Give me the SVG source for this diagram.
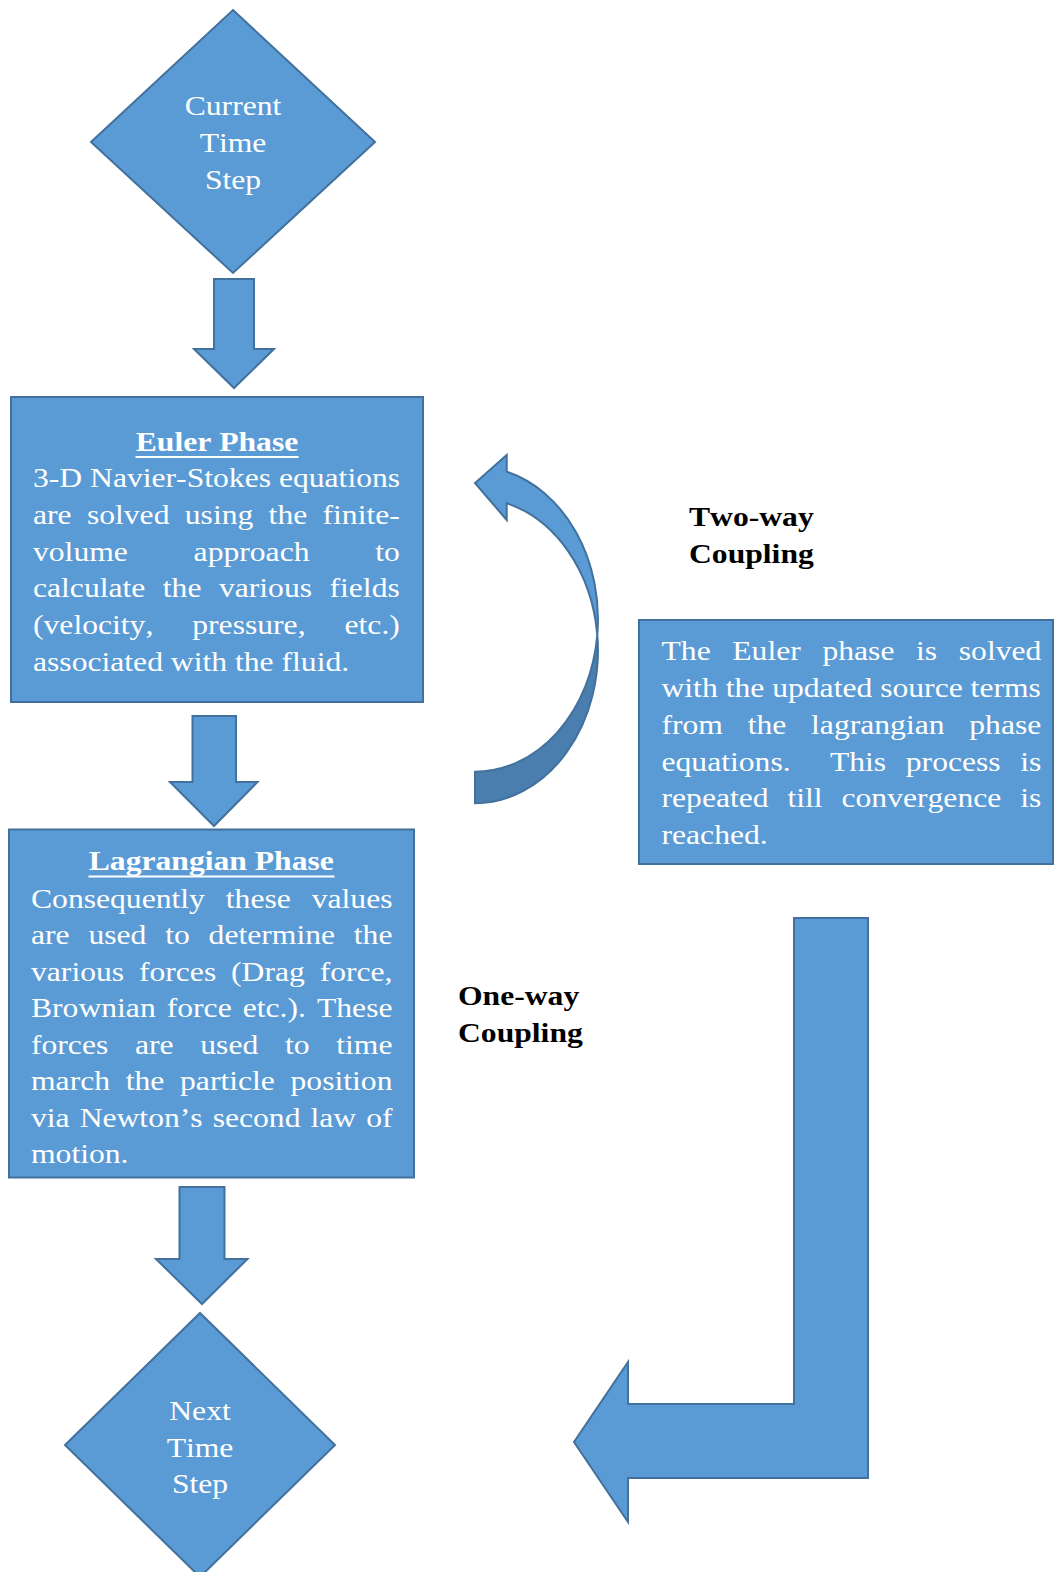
<svg xmlns="http://www.w3.org/2000/svg" width="1054" height="1572" viewBox="0 0 1054 1572">
<style>
.shape{fill:#5B9BD5;stroke:#41719C;stroke-width:2;stroke-linejoin:miter}
.dark{fill:#4A7EAE;stroke:#41719C;stroke-width:2}
.t{font-family:"Liberation Serif","Times New Roman",serif;font-size:28px;fill:#FFFFFF;font-kerning:none}
.b{font-weight:bold}
.k{font-family:"Liberation Serif","Times New Roman",serif;font-size:28px;font-weight:bold;fill:#000000;font-kerning:none}
.ul{stroke:#FFFFFF;stroke-width:2}
</style>
<rect width="1054" height="1572" fill="#FFFFFF"/>

<g id="connectors">
  <path class="shape" d="M214,279 L254,279 L254,349 L274,349 L234,388 L194,349 L214,349 Z"/>
  <path class="shape" d="M192.5,716 L236,716 L236,782 L257.5,782 L214,826 L170,782 L192.5,782 Z"/>
  <path class="shape" d="M179.5,1187 L224.5,1187 L224.5,1259 L247.5,1259 L202,1304 L156,1259 L179.5,1259 Z"/>
  <g id="curved-arrow">
    <path class="shape" d="M506.7,471.7 A123,152.6 0 0 1 597.3,634.8 A123,152.6 0 0 0 506.7,503.3 L506.7,520 L475,483 L506.7,455 Z"/>
    <path class="dark" d="M597.3,634.8 A123,152.6 0 0 1 475,803.2 L475,771.7 A123,152.6 0 0 0 597.3,634.8 Z"/>
  </g>
  <path id="bent-arrow" class="shape" d="M794,918 L868,918 L868,1478 L628,1478 L628,1522 L574,1442 L628,1362 L628,1404 L794,1404 Z"/>
</g>

<g id="current-time-step">
  <polygon class="shape" points="233,10 375,142 233,273 91,142"/>
  <text class="t" text-anchor="middle" transform="translate(233,115) scale(1.13,1)">Current</text>
  <text class="t" text-anchor="middle" transform="translate(233,152) scale(1.13,1)">Time</text>
  <text class="t" text-anchor="middle" transform="translate(233,189) scale(1.13,1)">Step</text>
</g>

<g id="euler-phase">
  <rect class="shape" x="11" y="397" width="412" height="305"/>
  <text class="t b" text-anchor="middle" transform="translate(217,451) scale(1.13,1)">Euler Phase</text>
  <line class="ul" x1="135.5" y1="457" x2="298.5" y2="457"/>
  <text class="t" transform="translate(33,487) scale(1.13,1)">3-D Navier-Stokes equations</text>
  <text class="t" word-spacing="6.55" transform="translate(33,523.5) scale(1.13,1)">are solved using the finite-</text>
  <text class="t" word-spacing="51.2" transform="translate(33,560.5) scale(1.13,1)">volume approach to</text>
  <text class="t" word-spacing="8.47" transform="translate(33,597) scale(1.13,1)">calculate the various fields</text>
  <text class="t" word-spacing="27.5" transform="translate(33,634) scale(1.13,1)">(velocity, pressure, etc.)</text>
  <text class="t" transform="translate(33,670.5) scale(1.13,1)">associated with the fluid.</text>
</g>

<g id="lagrangian-phase">
  <rect class="shape" x="9" y="829.5" width="405" height="348"/>
  <text class="t b" text-anchor="middle" transform="translate(211.3,870) scale(1.13,1)">Lagrangian Phase</text>
  <line class="ul" x1="88.5" y1="876.5" x2="334.5" y2="876.5"/>
  <text class="t" word-spacing="11.5" transform="translate(31,907.5) scale(1.13,1)">Consequently these values</text>
  <text class="t" word-spacing="9.65" transform="translate(31,944) scale(1.13,1)">are used to determine the</text>
  <text class="t" word-spacing="6.15" transform="translate(31,980.7) scale(1.13,1)">various forces (Drag force,</text>
  <text class="t" word-spacing="2.77" transform="translate(31,1017) scale(1.13,1)">Brownian force etc.). These</text>
  <text class="t" word-spacing="16.65" transform="translate(31,1053.5) scale(1.13,1)">forces are used to time</text>
  <text class="t" word-spacing="6.9" transform="translate(31,1090) scale(1.13,1)">march the particle position</text>
  <text class="t" word-spacing="1.87" transform="translate(31,1126.7) scale(1.13,1)">via Newton’s second law of</text>
  <text class="t" transform="translate(31,1163.3) scale(1.13,1)">motion.</text>
</g>

<g id="next-time-step">
  <polygon class="shape" points="200,1313 335,1445 200,1577 65,1445"/>
  <text class="t" text-anchor="middle" transform="translate(200,1420) scale(1.13,1)">Next</text>
  <text class="t" text-anchor="middle" transform="translate(200,1456.5) scale(1.13,1)">Time</text>
  <text class="t" text-anchor="middle" transform="translate(200,1493) scale(1.13,1)">Step</text>
</g>

<g id="two-way-coupling">
  <text class="k" transform="translate(689,526) scale(1.13,1)">Two-way</text>
  <text class="k" transform="translate(689,563) scale(1.13,1)">Coupling</text>
</g>

<g id="one-way-coupling">
  <text class="k" transform="translate(458,1005) scale(1.13,1)">One-way</text>
  <text class="k" transform="translate(458,1042) scale(1.13,1)">Coupling</text>
</g>

<g id="convergence-note">
  <rect class="shape" x="639" y="620" width="414" height="244"/>
  <text class="t" word-spacing="12.15" transform="translate(661.5,660) scale(1.13,1)">The Euler phase is solved</text>
  <text class="t" transform="translate(661.5,697) scale(1.13,1)">with the updated source terms</text>
  <text class="t" word-spacing="14.9" transform="translate(661.5,734) scale(1.13,1)">from the lagrangian phase</text>
  <text class="t" word-spacing="10.4" xml:space="preserve" transform="translate(661.5,770.5) scale(1.13,1)">equations.  This process is</text>
  <text class="t" word-spacing="9.72" transform="translate(661.5,807) scale(1.13,1)">repeated till convergence is</text>
  <text class="t" transform="translate(661.5,843.5) scale(1.13,1)">reached.</text>
</g>
</svg>
